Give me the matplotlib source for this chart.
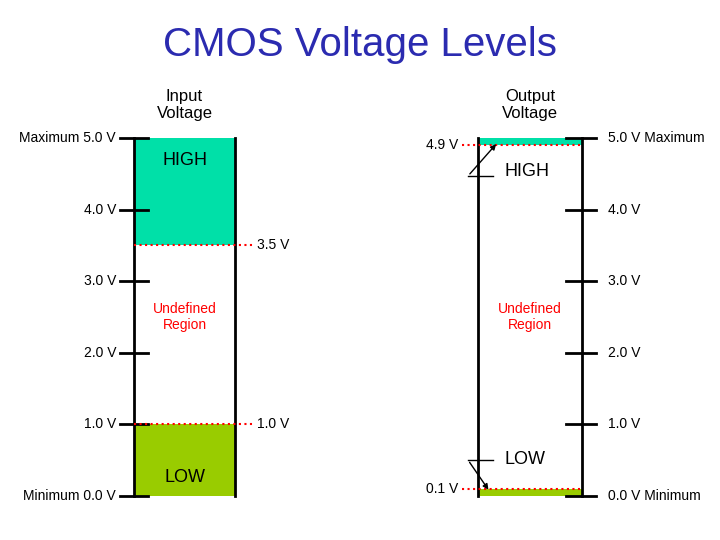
import matplotlib
matplotlib.use("Agg")
import matplotlib.pyplot as plt

volts = [0.0, 1.0, 2.0, 3.0, 4.0, 5.0]
tick_labels = ["0.0 V", "1.0 V", "2.0 V", "3.0 V", "4.0 V", "5.0 V"]
vih, vil = 3.5, 1.0
voh, vol = 4.9, 0.1
vmax = 5.0
high_col, low_col = "#00E0A8", "#99CC00"

fig = plt.figure(figsize=(7.2, 5.4), dpi=100)
ax = fig.add_axes([0, 0, 1, 1])
ppv = 71.6
ax.set_xlim(0, 720)
ax.set_ylim(-(540 - 496) / ppv, 496 / ppv)
ax.axis("off")
fs = 10

ax.text(360, (496 - 45) / ppv, "CMOS Voltage Levels", ha="center", va="center",
        fontsize=29, color="#2B2BB0", family="Liberation Sans")

# Input
L, R = 134, 235
ax.fill_between([L, R], vih, vmax, color=high_col, lw=0)
ax.fill_between([L, R], 0, vil, color=low_col, lw=0)
ax.plot([L, L], [0, vmax], color="k", lw=2)
ax.plot([R, R], [0, vmax], color="k", lw=2)
for v, t in zip(volts, tick_labels):
    ax.plot([120, 148], [v, v], color="k", lw=2)
    lab = ("Maximum " + t) if v == vmax else ("Minimum " + t) if v == 0 else t
    ax.text(116, v, lab, ha="right", va="center", fontsize=fs, family="Liberation Sans")
for v in (vih, vil):
    ax.plot([L, 255], [v, v], color="red", lw=1.5, ls=":")
    ax.text(257, v, f"{v:.1f} V", ha="left", va="center", fontsize=fs, family="Liberation Sans")
ax.text((L + R) / 2, (496 - 105) / ppv, "Input\nVoltage", ha="center", va="center", fontsize=12, family="Liberation Sans")
ax.text((L + R) / 2, (496 - 160) / ppv, "HIGH", ha="center", va="center", fontsize=13, family="Liberation Sans")
ax.text((L + R) / 2, (496 - 478) / ppv, "LOW", ha="center", va="center", fontsize=13, family="Liberation Sans")
ax.text((L + R) / 2, 2.5, "Undefined\nRegion", ha="center", va="center", fontsize=10, color="red", family="Liberation Sans")

# Output
L, R = 478, 582
ax.fill_between([L, R], voh, vmax, color=high_col, lw=0)
ax.fill_between([L, R], 0, vol, color=low_col, lw=0)
ax.plot([L, L], [0, vmax], color="k", lw=2)
ax.plot([R, R], [0, vmax], color="k", lw=2)
for v, t in zip(volts, tick_labels):
    ax.plot([566, 596], [v, v], color="k", lw=2)
    lab = (t + " Maximum") if v == vmax else (t + " Minimum") if v == 0 else t
    ax.text(608, v, lab, ha="left", va="center", fontsize=fs, family="Liberation Sans")
for v in (voh, vol):
    ax.plot([462, R], [v, v], color="red", lw=1.5, ls=":")
    ax.text(458, v, f"{v:.1f} V", ha="right", va="center", fontsize=fs, family="Liberation Sans")
ax.text((L + R) / 2, (496 - 105) / ppv, "Output\nVoltage", ha="center", va="center", fontsize=12, family="Liberation Sans")
ax.text(505, (496 - 172) / ppv, "HIGH", ha="left", va="center", fontsize=13, family="Liberation Sans")
ax.text(505, (496 - 460) / ppv, "LOW", ha="left", va="center", fontsize=13, family="Liberation Sans")
ax.text((L + R) / 2, 2.5, "Undefined\nRegion", ha="center", va="center", fontsize=10, color="red", family="Liberation Sans")
# leader lines with arrows
ax.plot([468, 493], [(496 - 176) / ppv] * 2, color="k", lw=1)
ax.annotate("", xy=(498, (496 - 142) / ppv), xytext=(468, (496 - 176) / ppv),
            arrowprops=dict(arrowstyle="-|>", color="k", lw=1, mutation_scale=8))
ax.plot([468, 493], [(496 - 460) / ppv] * 2, color="k", lw=1)
ax.annotate("", xy=(490, (496 - 492) / ppv), xytext=(468, (496 - 460) / ppv),
            arrowprops=dict(arrowstyle="-|>", color="k", lw=1, mutation_scale=8))

fig.savefig("out.png", dpi=100)
